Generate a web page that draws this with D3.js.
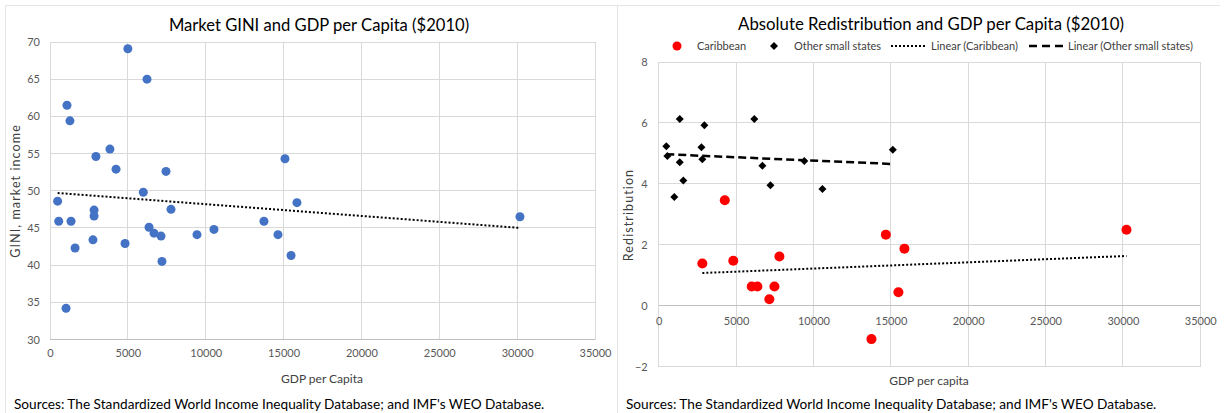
<!DOCTYPE html>
<html>
<head>
<meta charset="utf-8">
<script src="https://cdn.jsdelivr.net/npm/d3@7"></script>
<style>
html,body{margin:0;padding:0;background:#fff;}
svg{display:block;font-family:Lato,"Open Sans",sans-serif;}
</style>
</head>
<body>
<svg id="chart" width="1226" height="413"></svg>
<script>
// ---------- Left chart data: Market GINI vs GDP per capita ----------
const giniGdp = [5000,6230,1090,1280,3850,2950,4240,7450,5990,490,7770,2830,2830,560,1350,6360,6680,7130,10530,9440,2760,4820,1610,7190,1030,13740,15090,14640,15480,15860,30180];
const giniValue = [69.1,65.0,61.5,59.4,55.6,54.6,52.9,52.6,49.8,48.6,47.5,47.4,46.6,45.9,45.9,45.1,44.3,43.9,44.8,44.1,43.4,42.9,42.3,40.5,34.2,45.9,54.3,44.1,41.3,48.4,46.5];
const giniTrendX = [490,30180];
const giniTrendY = [49.7,45.0];
const giniXTicks = [0,5000,10000,15000,20000,25000,30000,35000];
const giniYTicks = [30,35,40,45,50,55,60,65,70];

// ---------- Right chart data: Absolute redistribution vs GDP per capita ----------
const caribGdp = [2820,4270,4820,6010,6380,7480,7150,7800,13750,14680,15880,15490,30230];
const caribRedist = [1.38,3.46,1.47,0.63,0.63,0.63,0.21,1.61,-1.10,2.33,1.87,0.44,2.49];
const otherGdp = [490,560,1360,1360,1010,1590,2760,2950,2820,6180,6700,7220,9410,10580,15130];
const otherRedist = [5.23,4.91,6.13,4.71,3.57,4.11,5.20,5.92,4.81,6.13,4.59,3.95,4.75,3.83,5.12];
const caribTrendX = [2820,30230];
const caribTrendY = [1.07,1.63];
const otherTrendX = [490,15130];
const otherTrendY = [4.97,4.65];
const redistXTicks = [0,5000,10000,15000,20000,25000,30000,35000];
const redistYTicks = [-2,0,2,4,6,8];

const legendLabels = ["Caribbean","Other small states","Linear (Caribbean)","Linear (Other small states)"];
const titles = ["Market GINI and GDP per Capita ($2010)","Absolute Redistribution and GDP per Capita ($2010)"];
const sourceText = "Sources: The Standardized World Income Inequality Database; and IMF's WEO Database.";

const svg = d3.select("#chart");
const GRID = "#d9d9d9", AXIS = "#bfbfbf", TICKTXT = "#595959";

// frame lines
svg.append("path").attr("d","M5.5,413 V5.5 H1220").attr("fill","none").attr("stroke","#e4e4e4").attr("stroke-width",1);
svg.append("line").attr("x1",617.5).attr("x2",617.5).attr("y1",5).attr("y2",413).attr("stroke","#e4e4e4");

function grid(g, x, y, xt, yt){
  g.append("g").selectAll("line").data(xt).join("line")
    .attr("x1",d=>x(d)).attr("x2",d=>x(d)).attr("y1",y.range()[0]).attr("y2",y.range()[1])
    .attr("stroke",GRID).attr("stroke-width",1).attr("shape-rendering","crispEdges");
  g.append("g").selectAll("line").data(yt).join("line")
    .attr("y1",d=>y(d)).attr("y2",d=>y(d)).attr("x1",x.range()[0]).attr("x2",x.range()[1])
    .attr("stroke",GRID).attr("stroke-width",1).attr("shape-rendering","crispEdges");
}
function styleAxis(a){
  a.select(".domain").remove();
  a.selectAll(".tick line").remove();
  a.selectAll(".tick text").attr("fill",TICKTXT).attr("font-size","11px").attr("font-family","Lato");
}

// ================= LEFT CHART =================
{
  const x = d3.scaleLinear().domain([0,35000]).range([50,595]);
  const y = d3.scaleLinear().domain([30,70]).range([339.5,42]);
  const g = svg.append("g");
  grid(g,x,y,giniXTicks,giniYTicks);
  g.append("line").attr("x1",x(0)).attr("x2",x(35000)).attr("y1",y(30)).attr("y2",y(30))
    .attr("stroke",AXIS).attr("shape-rendering","crispEdges");
  const xa = g.append("g").attr("transform",`translate(0,${y(30)+10})`)
    .call(d3.axisBottom(x).tickValues(giniXTicks).tickSize(0).tickPadding(0).tickFormat(d3.format("d")));
  styleAxis(xa);
  xa.selectAll(".tick text").attr("dy","0.71em");
  const ya = g.append("g").attr("transform",`translate(${x(0)-10},0)`)
    .call(d3.axisLeft(y).tickValues(giniYTicks).tickSize(0).tickPadding(0));
  styleAxis(ya);

  g.append("g").selectAll("circle").data(d3.zip(giniGdp,giniValue)).join("circle")
    .attr("cx",d=>x(d[0])).attr("cy",d=>y(d[1])).attr("r",4.5).attr("fill","#4472c4");
  g.append("line").attr("x1",x(giniTrendX[0])).attr("y1",y(giniTrendY[0]))
    .attr("x2",x(giniTrendX[1])).attr("y2",y(giniTrendY[1]))
    .attr("stroke","#000").attr("stroke-width",2).attr("stroke-dasharray","2,2");

  svg.append("text").attr("x",319).attr("y",31).attr("text-anchor","middle")
    .attr("font-size","16.6px").attr("fill","#000").text(titles[0]);
  svg.append("text").attr("x",322).attr("y",383).attr("text-anchor","middle")
    .attr("font-size","12px").attr("fill","#404040").text("GDP per Capita");
  svg.append("text").attr("transform","translate(20,191) rotate(-90)").attr("text-anchor","middle")
    .attr("font-size","12.5px").attr("letter-spacing","1.1px").attr("fill","#404040").text("GINI, market income");
  svg.append("text").attr("x",14).attr("y",409).attr("font-size","13.65px").attr("fill","#000").text(sourceText);
}

// ================= RIGHT CHART =================
{
  const x = d3.scaleLinear().domain([0,35000]).range([658.7,1200.3]);
  const y = d3.scaleLinear().domain([-2,8]).range([366.5,62]);
  const g = svg.append("g");
  grid(g,x,y,redistXTicks,redistYTicks);
  g.append("line").attr("x1",x(0)).attr("x2",x(35000)).attr("y1",y(0)).attr("y2",y(0))
    .attr("stroke",AXIS).attr("shape-rendering","crispEdges");
  const xa = g.append("g").attr("transform",`translate(0,${y(0)+12})`)
    .call(d3.axisBottom(x).tickValues(redistXTicks).tickSize(0).tickPadding(0).tickFormat(d3.format("d")));
  styleAxis(xa);
  xa.selectAll(".tick text").attr("dy","0.71em");
  const ya = g.append("g").attr("transform",`translate(${x(0)-11},0)`)
    .call(d3.axisLeft(y).tickValues(redistYTicks).tickSize(0).tickPadding(0).tickFormat(d3.format("d")));
  styleAxis(ya);

  g.append("line").attr("x1",x(caribTrendX[0])).attr("y1",y(caribTrendY[0]))
    .attr("x2",x(caribTrendX[1])).attr("y2",y(caribTrendY[1]))
    .attr("stroke","#000").attr("stroke-width",2).attr("stroke-dasharray","2,2");
  g.append("line").attr("x1",x(otherTrendX[0])).attr("y1",y(otherTrendY[0]))
    .attr("x2",x(otherTrendX[1])).attr("y2",y(otherTrendY[1]))
    .attr("stroke","#000").attr("stroke-width",2.5).attr("stroke-dasharray","8,4");

  const diamond = "M0,-4L4,0L0,4L-4,0Z";
  g.append("g").selectAll("path").data(d3.zip(otherGdp,otherRedist)).join("path")
    .attr("d",diamond).attr("transform",d=>`translate(${x(d[0])},${y(d[1])})`).attr("fill","#000");
  g.append("g").selectAll("circle").data(d3.zip(caribGdp,caribRedist)).join("circle")
    .attr("cx",d=>x(d[0])).attr("cy",d=>y(d[1])).attr("r",5).attr("fill","#ff0000");

  svg.append("text").attr("x",931).attr("y",30).attr("text-anchor","middle")
    .attr("font-size","16.8px").attr("fill","#000").text(titles[1]);
  svg.append("text").attr("x",929).attr("y",385).attr("text-anchor","middle")
    .attr("font-size","12px").attr("fill","#404040").text("GDP per capita");
  svg.append("text").attr("transform","translate(633,215) rotate(-90)").attr("text-anchor","middle")
    .attr("font-size","12.5px").attr("letter-spacing","1.1px").attr("fill","#404040").text("Redistribution");
  svg.append("text").attr("x",626).attr("y",409).attr("font-size","13.65px").attr("fill","#000").text(sourceText);

  // legend
  const lg = svg.append("g").attr("font-size","11px").attr("fill","#404040");
  const ly = 46;
  lg.append("circle").attr("cx",677).attr("cy",ly).attr("r",4.5).attr("fill","#ff0000");
  lg.append("text").attr("x",697).attr("y",ly+4).text(legendLabels[0]);
  lg.append("path").attr("d",diamond).attr("transform",`translate(774,${ly})`).attr("fill","#000");
  lg.append("text").attr("x",794).attr("y",ly+4).text(legendLabels[1]);
  lg.append("line").attr("x1",891).attr("x2",926).attr("y1",ly).attr("y2",ly)
    .attr("stroke","#000").attr("stroke-width",2).attr("stroke-dasharray","2,2");
  lg.append("text").attr("x",931).attr("y",ly+4).text(legendLabels[2]);
  lg.append("line").attr("x1",1029).attr("x2",1063).attr("y1",ly).attr("y2",ly)
    .attr("stroke","#000").attr("stroke-width",2.5).attr("stroke-dasharray","8,5");
  lg.append("text").attr("x",1068).attr("y",ly+4).text(legendLabels[3]);
}
</script>
</body>
</html>
